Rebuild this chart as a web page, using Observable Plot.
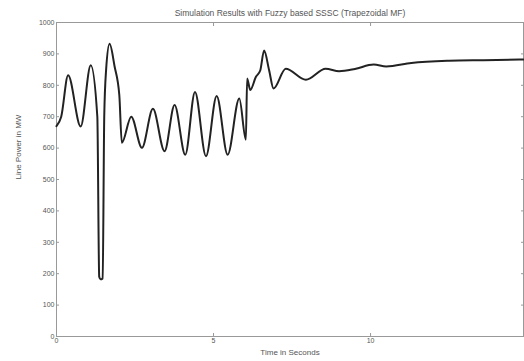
<!DOCTYPE html>
<html>
<head>
<meta charset="utf-8">
<script src="https://cdn.jsdelivr.net/npm/d3@7"></script>
<script src="https://cdn.jsdelivr.net/npm/@observablehq/plot@0.6"></script>
<style>
  html, body { margin: 0; padding: 0; background: #fff; }
  svg { display: block; }
</style>
</head>
<body>
<div id="chart"></div>
<script>
const titleText = "Simulation Results with Fuzzy based SSSC (Trapezoidal MF)";
const xLabel = "Time in Seconds";
const yLabel = "Line Power in MW";
const xTicks = [0, 5, 10];
const yTicks = [0, 100, 200, 300, 400, 500, 600, 700, 800, 900, 1000];

const time = [0, 0.15, 0.37, 0.77, 1.09, 1.30, 1.36, 1.40, 1.47, 1.52, 1.58, 1.69, 1.85, 2.00, 2.08,
  2.38, 2.72, 3.07, 3.44, 3.76, 4.10, 4.41, 4.76, 5.10, 5.45, 5.82, 6.03, 6.07, 6.17, 6.35, 6.49,
  6.61, 6.77, 6.91, 7.30, 7.94, 8.57, 9.00, 9.50, 10.1, 10.5, 11.3, 12.5, 13.6, 14.87];
const power = [670, 700, 832, 669, 864, 700, 190, 182, 185, 700, 850, 932, 860, 769, 617,
  700, 601, 725, 590, 737, 579, 779, 574, 766, 579, 758, 627, 822, 785, 827, 848,
  911, 848, 790, 853, 818, 853, 845, 852, 866, 860, 871, 878, 880, 882];

const data = time.map((t, i) => ({t, v: power[i]}));
const textColor = "#555";
const fmt = d => String(d);

const chart = Plot.plot({
  width: 524,
  height: 361,
  marginTop: 22,
  marginBottom: 25,
  marginLeft: 56,
  marginRight: 1,
  style: {fontFamily: "Liberation Sans, Arial, sans-serif", fontSize: "7px", color: textColor, background: "#fff"},
  x: {domain: [0, 14.87]},
  y: {domain: [0, 1000]},
  marks: [
    Plot.frame({stroke: "#999", strokeWidth: 1}),
    Plot.axisX({ticks: xTicks, anchor: "bottom", tickSize: -3, tickPadding: 5, tickFormat: fmt, label: null, stroke: "#999", fill: textColor}),
    Plot.axisX({ticks: xTicks, anchor: "top", tickSize: -3, tickFormat: () => "", label: null, stroke: "#999"}),
    Plot.axisY({ticks: yTicks, anchor: "left", tickSize: -3, tickPadding: 5, tickFormat: fmt, label: null, stroke: "#999", fill: textColor}),
    Plot.axisY({ticks: yTicks, anchor: "right", tickSize: -3, tickFormat: () => "", label: null, stroke: "#999"}),
    Plot.line(data, {x: "t", y: "v", stroke: "#222", strokeWidth: 2, curve: "monotone-x"}),
    Plot.text([titleText], {frameAnchor: "top", dy: -13, fontSize: 8.5, fill: textColor}),
    Plot.text([xLabel], {frameAnchor: "bottom", dy: 18, fontSize: 8, fill: textColor}),
    Plot.text([yLabel], {frameAnchor: "left", dx: -38, rotate: -90, fontSize: 8, fill: textColor})
  ]
});
document.getElementById("chart").appendChild(chart);
</script>
</body>
</html>
